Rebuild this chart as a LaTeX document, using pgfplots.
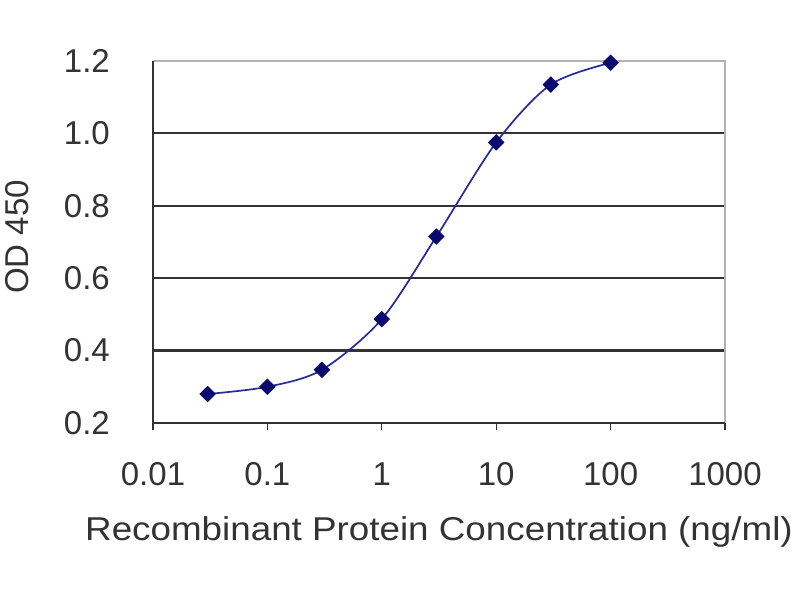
\documentclass[border=0pt]{standalone}
\usepackage{pgfplots}
\pgfplotsset{compat=1.18}
\usepackage{fontspec}
\setmainfont{Liberation Sans}
\definecolor{txt}{HTML}{333333}
\definecolor{curve}{HTML}{2A2A96}
\definecolor{dots}{HTML}{0A0A6E}

\begin{document}
\begin{tikzpicture}
\useasboundingbox[fill=white] (0,0) rectangle (800bp,600bp);
\begin{axis}[
    at={(153bp,177bp)}, anchor=south west,
    scale only axis,
    width=572bp, height=362bp,
    xmode=log,
    xmin=0.01, xmax=1000,
    ymin=0.2, ymax=1.2,
    xtick={0.01,0.1,1,10,100,1000},
    xticklabels={0.01,0.1,1,10,100,1000},
    ytick={0.2,0.4,0.6,0.8,1.0,1.2},
    yticklabels={0.2,0.4,0.6,0.8,1.0,1.2},
    xminorticks=false,
    xtick pos=lower,
    ymajorgrids,
    grid style={black!80, line width=2.2bp},
    axis line style={draw=none},
    tick align=outside,
    major tick length=7bp,
    xtick style={black!80, line width=1.3bp},
    ytick style={draw=none},
    font=\fontsize{33bp}{40bp}\selectfont,
    ticklabel style={text=txt, inner sep=0pt},
    xticklabel style={anchor=base, yshift=-55bp},
    yticklabel style={anchor=east, xshift=-36bp},
    xlabel={\scalebox{1.115}[1]{Recombinant Protein Concentration (ng/ml)}},
    ylabel={OD 450},
    xlabel style={at={(axis description cs:0.5,0)}, anchor=base, yshift=-117bp, text=txt, inner sep=0pt},
    ylabel style={at={(axis description cs:0,0.514)}, anchor=center, yshift=136bp, text=txt, inner sep=0pt},
    clip=false,
]
% frame: light grey top and right, dark bottom and left
\draw[black!30, line width=2.6bp] (axis description cs:0,1) -- (axis description cs:1,1) -- (axis description cs:1,0);
\draw[black!80, line width=2bp] (axis description cs:0,1) -- (axis description cs:0,0) -- (axis description cs:1,0);

\addplot[curve, line width=1.7bp, smooth, mark=square*, mark size=5bp,
    mark options={fill=dots, draw=dots, rotate=45}]
    coordinates {
    (0.03,0.280)
    (0.1,0.300)
    (0.3,0.347)
    (1,0.487)
    (3,0.715)
    (10,0.975)
    (30,1.135)
    (100,1.195)
    };
\end{axis}
\end{tikzpicture}
\end{document}
